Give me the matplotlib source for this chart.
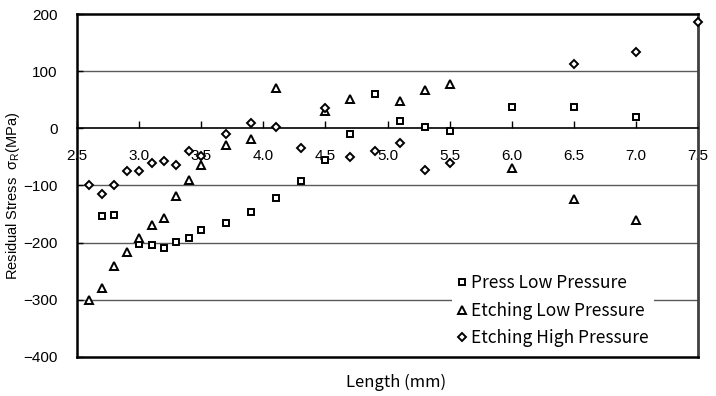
import numpy as np
import matplotlib
matplotlib.use("Agg")
import matplotlib.pyplot as plt
from matplotlib.ticker import FormatStrFormatter

# Press Low Pressure (squares)
press_x = [2.7, 2.8, 3.0, 3.1, 3.2, 3.3, 3.4, 3.5, 3.7, 3.9, 4.1, 4.3, 4.5, 4.7, 4.9, 5.1, 5.3, 5.5, 6.0, 6.5, 7.0]
press_y = [-154, -151, -202, -204, -209, -199, -191, -177, -166, -146, -121, -93, -55, -10, 60, 12, 2, -5, 38, 38, 20]

# Etching Low Pressure (triangles)
etch_low_x = [2.6, 2.7, 2.8, 2.9, 3.0, 3.1, 3.2, 3.3, 3.4, 3.5, 3.7, 3.9, 4.1, 4.5, 4.7, 5.1, 5.3, 5.5, 6.0, 6.5, 7.0]
etch_low_y = [-300, -279, -240, -217, -192, -169, -156, -119, -91, -64, -30, -18, 70, 30, 52, 47, 67, 77, -69, -124, -160]

# Etching High Pressure (diamonds)
etch_high_x = [2.6, 2.7, 2.8, 2.9, 3.0, 3.1, 3.2, 3.3, 3.4, 3.5, 3.7, 3.9, 4.1, 4.3, 4.5, 4.7, 4.9, 5.1, 5.3, 5.5, 6.5, 7.0, 7.5]
etch_high_y = [-100, -115, -100, -75, -75, -61, -58, -65, -40, -48, -10, 10, 2, -35, 35, -50, -40, -26, -73, -61, 113, 133, 186]

xticks = np.arange(2.5, 7.51, 0.5)
yticks = [-400, -300, -200, -100, 0, 100, 200]

tick_font = "Liberation Sans"
jp_font = ["Noto Sans CJK JP", "DejaVu Sans"]

fig = plt.figure(figsize=(7.16, 3.96), dpi=100)
ax = fig.add_axes([77/716, 1 - 357/396, 621/716, 343/396])

ax.set_xlim(2.5, 7.5)
ax.set_ylim(-400, 200)

# gridlines
for yv in [100, -100, -200, -300]:
    ax.axhline(yv, color="#5a5a5a", lw=1.0, zorder=1)

mk = dict(linestyle="none", mfc="white", mec="black", mew=1.4, clip_on=False, zorder=5)
ax.plot(press_x, press_y, marker="s", ms=5, label="Press Low Pressure", **mk)
ax.plot(etch_low_x, etch_low_y, marker="^", ms=5.5, label="Etching Low Pressure", **mk)
ax.plot(etch_high_x, etch_high_y, marker="D", ms=3.8, label="Etching High Pressure", **mk)

# x axis crossing at zero, frame bottom drawn separately
ax.spines["bottom"].set_position(("data", 0))
ax.spines["bottom"].set_linewidth(1.2)
ax.axhline(-400, color="black", lw=1.8, clip_on=False, zorder=6)
ax.spines["left"].set_linewidth(1.8)
ax.spines["top"].set_linewidth(1.8)
ax.spines["right"].set_linewidth(2.0)
ax.spines["right"].set_color("#404040")

ax.set_xticks(xticks)
ax.xaxis.set_major_formatter(FormatStrFormatter("%.1f"))
ax.set_yticks(yticks)
ax.tick_params(axis="x", direction="in", length=5, width=1, pad=15, labelsize=11)
ax.tick_params(axis="y", direction="in", length=4, width=1, pad=14, labelsize=11)
for lab in ax.get_xticklabels() + ax.get_yticklabels():
    lab.set_fontfamily(tick_font)

fig.text(13/716, 1 - 196/396, "Residual Stress  σ$_\\mathregular{R}$(MPa)", rotation=90,
         ha="center", va="center", fontsize=10.5, family=[tick_font, "Noto Sans CJK JP"])
fig.text(396/716, 1 - 382/396, "Length (mm)", ha="center", va="center",
         fontsize=12, family=jp_font)

leg = ax.legend(loc="center", bbox_to_anchor=(0.767, 0.135), frameon=True,
                fancybox=False, edgecolor="none", facecolor="white", framealpha=1,
                prop={"family": jp_font, "size": 12.5}, handlelength=0.5,
                handletextpad=0.3, labelspacing=0.55, borderpad=0.3, borderaxespad=0)
leg.set_zorder(4)

fig.savefig("out.png", dpi=100)
